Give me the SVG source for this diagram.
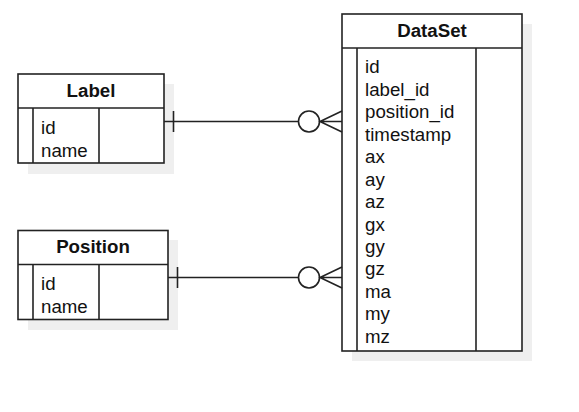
<svg xmlns="http://www.w3.org/2000/svg" width="579" height="412" viewBox="0 0 579 412">
<style>
.shadow{fill:#efefef;stroke:none}
.box{fill:#ffffff;stroke:#222;stroke-width:1.6}
.ln{stroke:#222;stroke-width:1.6;fill:none}
.title{font-family:"Liberation Sans",Arial,sans-serif;font-size:18.7px;font-weight:bold;fill:#111;text-anchor:middle}
.fld{font-family:"Liberation Sans",Arial,sans-serif;font-size:18.7px;fill:#111}
.edge{stroke:#222;stroke-width:1.6;fill:none}
</style>
<rect width="579" height="412" fill="#ffffff"/>
<g id="Label">
<rect class="shadow" x="28" y="84" width="146" height="90"/>
<rect class="box" x="18" y="74" width="146" height="89"/>
<line class="ln" x1="18" y1="108" x2="164" y2="108"/>
<line class="ln" x1="33" y1="108" x2="33" y2="163"/>
<line class="ln" x1="99" y1="108" x2="99" y2="163"/>
<text class="title" x="91" y="97">Label</text>
<text class="fld" x="41" y="134">id</text>
<text class="fld" x="41" y="157">name</text>
</g>
<g id="Position">
<rect class="shadow" x="28" y="240" width="150" height="90"/>
<rect class="box" x="18" y="230.5" width="150" height="89"/>
<line class="ln" x1="18" y1="264.5" x2="168" y2="264.5"/>
<line class="ln" x1="33" y1="264.5" x2="33" y2="319.5"/>
<line class="ln" x1="99" y1="264.5" x2="99" y2="319.5"/>
<text class="title" x="93" y="253">Position</text>
<text class="fld" x="41" y="290">id</text>
<text class="fld" x="41" y="313">name</text>
</g>
<g id="DataSet">
<rect class="shadow" x="352" y="24" width="180" height="337"/>
<rect class="box" x="342" y="14" width="180" height="337"/>
<line class="ln" x1="342" y1="48" x2="522" y2="48"/>
<line class="ln" x1="357" y1="48" x2="357" y2="351"/>
<line class="ln" x1="476" y1="48" x2="476" y2="351"/>
<text class="title" x="432" y="37">DataSet</text>
<text class="fld" x="365" y="73.3">id</text>
<text class="fld" x="365" y="95.8">label_id</text>
<text class="fld" x="365" y="118.2">position_id</text>
<text class="fld" x="365" y="140.7">timestamp</text>
<text class="fld" x="365" y="163.1">ax</text>
<text class="fld" x="365" y="185.6">ay</text>
<text class="fld" x="365" y="208">az</text>
<text class="fld" x="365" y="230.5">gx</text>
<text class="fld" x="365" y="252.9">gy</text>
<text class="fld" x="365" y="275.4">gz</text>
<text class="fld" x="365" y="297.8">ma</text>
<text class="fld" x="365" y="320.3">my</text>
<text class="fld" x="365" y="342.7">mz</text>
</g>
<g id="connectors">
<g id="edge-label-dataset">
<line class="edge" x1="164" y1="121.5" x2="298" y2="121.5"/>
<line class="edge" x1="173.5" y1="111" x2="173.5" y2="132"/>
<circle class="edge" cx="309" cy="121.5" r="10.5"/>
<path class="edge" d="M342 111 L320 121.5 L342 132 M320 121.5 L342 121.5"/>
</g>
<g id="edge-position-dataset">
<line class="edge" x1="168" y1="277.5" x2="298" y2="277.5"/>
<line class="edge" x1="177.5" y1="267" x2="177.5" y2="288"/>
<circle class="edge" cx="309" cy="277.5" r="10.5"/>
<path class="edge" d="M342 267 L320 277.5 L342 288 M320 277.5 L342 277.5"/>
</g>
</g>
</svg>
